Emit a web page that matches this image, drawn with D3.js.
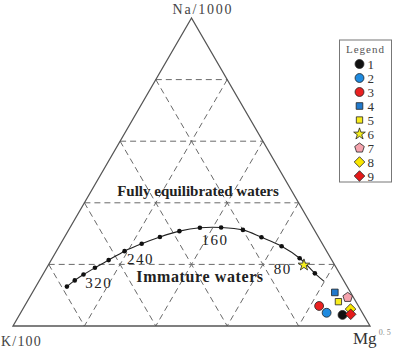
<!DOCTYPE html>
<html>
<head>
<meta charset="utf-8">
<script src="https://cdn.jsdelivr.net/npm/d3@7"></script>
<style>
  body { margin: 0; background: #fff; }
  svg { display: block; }
  text { font-family: "Liberation Serif", "DejaVu Serif", serif; }
</style>
</head>
<body>
<svg></svg>
<script>
// full equilibrium line, temperature in degC, composition in percent
const curveTemps = [340, 320, 300, 280, 260, 240, 220, 200, 180, 160, 140, 120, 100, 80, 60, 40, 20];
const curveNa = [12.8, 14.8, 16.7, 18.9, 21.4, 24.3, 26.7, 28.9, 30.8, 31.9, 32.0, 31.2, 28.8, 25.9, 22.0, 17.1, 14.5];
const curveMg = [8.7, 9.9, 11.4, 13.5, 16.1, 19.1, 22.7, 26.7, 31.2, 36.4, 42.3, 48.8, 55.2, 62.3, 69.3, 76.0, 79.9];
const tempLabels = [320, 240, 160, 80];

// samples
const sampleIds = ['1', '2', '3', '4', '5', '6', '7', '8', '9'];
const sampleNa = [3.6, 4.3, 6.5, 10.9, 7.9, 19.8, 9.3, 5.5, 3.8];
const sampleMg = [90.5, 85.7, 82.5, 84.7, 87.2, 71.6, 89.1, 91.8, 92.7];

const gridSteps = [20, 40, 60, 80];

const WIDTH = 400;
const HEIGHT = 351;
const TRI = { left: 13, right: 370, top: 18, bottom: 326 };

const svg = d3.select("svg")
    .attr("width", WIDTH)
    .attr("height", HEIGHT);

// ternary projection: x from (Mg + Na/2), y from Na
const x = d3.scaleLinear().domain([0, 100]).range([TRI.left, TRI.right]);
const y = d3.scaleLinear().domain([0, 100]).range([TRI.bottom, TRI.top]);
const px = (na, mg) => x(mg + na / 2);
const py = na => y(na);

const pentagon = {
    draw(ctx, size) {
        const r = Math.sqrt(size / 2.378);
        for (let i = 0; i < 5; i++) {
            const a = -Math.PI / 2 + i * 2 * Math.PI / 5;
            const cx = r * Math.cos(a), cy = r * Math.sin(a);
            if (i === 0) ctx.moveTo(cx, cy); else ctx.lineTo(cx, cy);
        }
        ctx.closePath();
    }
};

// square turned 45 degrees
const diamond = {
    draw(ctx, size) {
        const r = Math.sqrt(size / 2);
        ctx.moveTo(0, -r);
        ctx.lineTo(r, 0);
        ctx.lineTo(0, r);
        ctx.lineTo(-r, 0);
        ctx.closePath();
    }
};

const sampleStyle = [
    { shape: d3.symbolCircle, size: 62, fill: "#111111" },
    { shape: d3.symbolCircle, size: 62, fill: "#1f8be0" },
    { shape: d3.symbolCircle, size: 62, fill: "#ea2020" },
    { shape: d3.symbolSquare, size: 44, fill: "#2179cc" },
    { shape: d3.symbolSquare, size: 40, fill: "#f8ec1c" },
    { shape: d3.symbolStar, size: 42, fill: "#f6f01e" },
    { shape: pentagon, size: 60, fill: "#f5a3ad" },
    { shape: diamond, size: 56, fill: "#f9e600" },
    { shape: diamond, size: 56, fill: "#e41a1a" }
];

const symbolPath = st => d3.symbol().type(st.shape).size(st.size)();

// dashed grid
const grid = svg.append("g")
    .attr("stroke", "#6a6a6a")
    .attr("stroke-width", 1)
    .attr("stroke-dasharray", "6,4")
    .attr("fill", "none");

gridSteps.forEach(v => {
    // Na constant
    grid.append("line")
        .attr("x1", px(v, 0)).attr("y1", py(v))
        .attr("x2", px(v, 100 - v)).attr("y2", py(v));
    // Mg constant
    grid.append("line")
        .attr("x1", px(100 - v, v)).attr("y1", py(100 - v))
        .attr("x2", px(0, v)).attr("y2", py(0));
    // K constant
    grid.append("line")
        .attr("x1", px(100 - v, 0)).attr("y1", py(100 - v))
        .attr("x2", px(0, 100 - v)).attr("y2", py(0));
});

// outer triangle
svg.append("path")
    .attr("d", d3.line()([[px(100, 0), py(100)], [px(0, 0), py(0)], [px(0, 100), py(0)]]) + "Z")
    .attr("fill", "none")
    .attr("stroke", "#555")
    .attr("stroke-width", 1.3);

// region labels
svg.append("text")
    .attr("x", 198).attr("y", 196)
    .attr("text-anchor", "middle")
    .attr("font-size", 15)
    .attr("font-weight", "bold")
    .attr("fill", "#222")
    .text("Fully equilibrated waters");

svg.append("text")
    .attr("x", 200).attr("y", 282)
    .attr("text-anchor", "middle")
    .attr("font-size", 16)
    .attr("font-weight", "bold")
    .attr("letter-spacing", 0.6)
    .attr("fill", "#222")
    .text("Immature waters");

// equilibrium curve
const curveData = curveTemps.map((t, i) => ({ t, na: curveNa[i], mg: curveMg[i] }));

svg.append("path")
    .datum(curveData)
    .attr("d", d3.line().x(d => px(d.na, d.mg)).y(d => py(d.na)).curve(d3.curveCatmullRom))
    .attr("fill", "none")
    .attr("stroke", "#222")
    .attr("stroke-width", 1.1);

svg.selectAll(".dot")
    .data(curveData.filter(d => d.t >= 40))
    .enter()
    .append("circle")
    .classed("dot", true)
    .attr("cx", d => px(d.na, d.mg))
    .attr("cy", d => py(d.na))
    .attr("r", 2.3)
    .attr("fill", "#111");

const labelOffset = { 320: [24, 8], 240: [16, 13], 160: [15, 17], 80: [1, 28] };
svg.selectAll(".tlabel")
    .data(curveData.filter(d => tempLabels.includes(d.t)))
    .enter()
    .append("text")
    .classed("tlabel", true)
    .attr("x", d => px(d.na, d.mg) + labelOffset[d.t][0])
    .attr("y", d => py(d.na) + labelOffset[d.t][1])
    .attr("text-anchor", "middle")
    .attr("font-size", 15)
    .attr("letter-spacing", 1.5)
    .attr("fill", "#222")
    .text(d => d.t);

// samples
svg.selectAll(".sample")
    .data(sampleIds.map((id, i) => ({ id, na: sampleNa[i], mg: sampleMg[i], st: sampleStyle[i] })))
    .enter()
    .append("path")
    .classed("sample", true)
    .attr("transform", d => `translate(${px(d.na, d.mg)},${py(d.na)})`)
    .attr("d", d => symbolPath(d.st))
    .attr("fill", d => d.st.fill)
    .attr("stroke", "#222")
    .attr("stroke-width", 0.8);

// corner labels
svg.append("text")
    .attr("x", 203).attr("y", 14)
    .attr("text-anchor", "middle")
    .attr("font-size", 14)
    .attr("letter-spacing", 1.8)
    .attr("fill", "#444")
    .text("Na/1000");

svg.append("text")
    .attr("x", 1).attr("y", 346)
    .attr("font-size", 14)
    .attr("letter-spacing", 1.2)
    .attr("fill", "#444")
    .text("K/100");

const mg = svg.append("text")
    .attr("x", 353).attr("y", 344)
    .attr("font-family", "'Liberation Sans', Arial, sans-serif")
    .attr("font-size", 17)
    .attr("fill", "#333");
mg.append("tspan").text("Mg");
mg.append("tspan")
    .attr("dy", -9)
    .attr("dx", 2)
    .attr("font-size", 8)
    .attr("fill", "#888")
    .attr("font-family", "'Liberation Serif', serif")
    .text("0. 5");

// legend
const legend = svg.append("g").attr("transform", "translate(339.5,40)");
legend.append("rect")
    .attr("width", 52).attr("height", 142)
    .attr("fill", "#fff")
    .attr("stroke", "#777")
    .attr("stroke-width", 1);
legend.append("text")
    .attr("x", 26).attr("y", 13)
    .attr("text-anchor", "middle")
    .attr("font-size", 11)
    .attr("letter-spacing", 1)
    .attr("fill", "#555")
    .text("Legend");

const items = legend.selectAll(".item")
    .data(sampleIds.map((id, i) => ({ id, st: sampleStyle[i] })))
    .enter()
    .append("g")
    .classed("item", true)
    .attr("transform", (d, i) => `translate(20,${24 + i * 14})`);
items.append("path")
    .attr("d", d => symbolPath(d.st))
    .attr("fill", d => d.st.fill)
    .attr("stroke", "#222")
    .attr("stroke-width", 0.8);
items.append("text")
    .attr("x", 8).attr("y", 5)
    .attr("font-size", 13)
    .attr("fill", "#333")
    .text(d => d.id);
</script>
</body>
</html>
